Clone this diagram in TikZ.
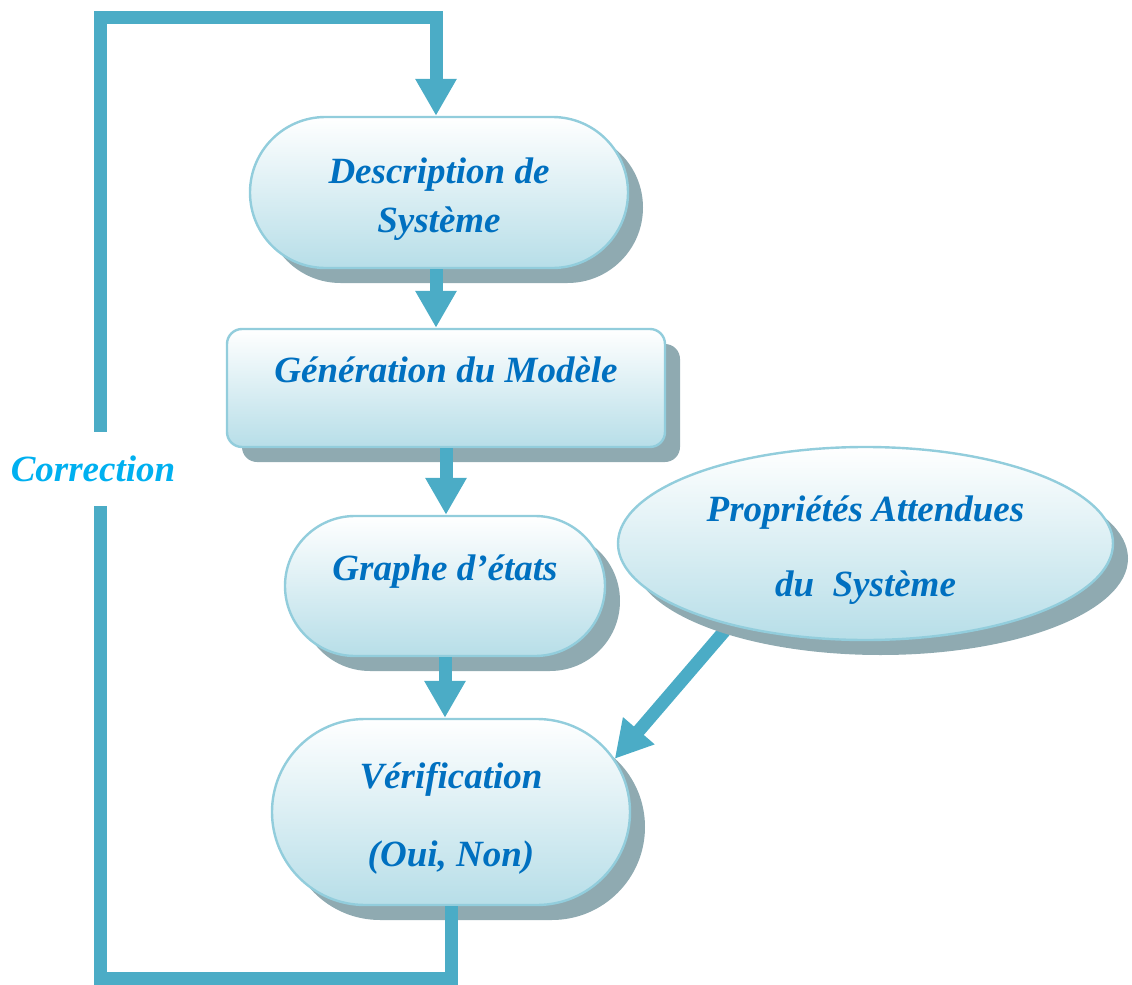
\documentclass[tikz,border=0pt]{standalone}
\usepackage{fontspec}
\setmainfont{Liberation Serif}
\usetikzlibrary{arrows.meta,shapes.misc,shapes.geometric,shadows,backgrounds}
\definecolor{flowblue}{HTML}{4BACC6}
\definecolor{edgeblue}{HTML}{92CDDC}
\definecolor{fillblue}{HTML}{B7DEE8}
\definecolor{shadowgray}{HTML}{8FAAB1}
\definecolor{textblue}{HTML}{0070C0}
\definecolor{corrblue}{HTML}{00B0F0}
\newcommand{\topstrut}{\rule{0pt}{19.5pt}}

\begin{document}
\begin{tikzpicture}[x=0.5pt, y=-0.5pt,
    flow/.style={draw=flowblue, line width=6.5pt, -{Triangle[width=19.5pt,length=18.5pt]}},
    card/.style={draw=edgeblue, line width=1.2pt, top color=white, bottom color=fillblue,
      text=textblue, font=\fontsize{18.5}{24.5}\selectfont\bfseries\itshape,
      align=center, inner sep=0pt,
      drop shadow={shadow xshift=7.5pt, shadow yshift=-7.5pt, fill=shadowgray, opacity=1}},
    pill/.style={card, rounded rectangle},
    tile/.style={card, rectangle, rounded corners=7.5pt},
    oval/.style={card, ellipse}]
  \useasboundingbox (0,0) rectangle (1132,985);

  \node[pill, minimum width=189pt, minimum height=75.5pt] (desc) at (439,192.5)
    {\topstrut Description de\\Système};
  \node[tile, minimum width=219pt, minimum height=59pt] (gen) at (446,388)
    {\raisebox{18pt}{Génération du Modèle}};
  \node[pill, minimum width=160pt, minimum height=70pt] (graph) at (445,586)
    {\raisebox{18pt}{Graphe d’états}};
  \node[pill, minimum width=179pt, minimum height=93pt] (verif) at (451,812)
    {\topstrut Vérification\\[14.5pt](Oui, Non)};
  \node[oval, minimum width=247.5pt, minimum height=96.5pt] (prop) at (865.5,543.5)
    {\topstrut Propriétés Attendues\\[13pt]du\ \ Système};

  \coordinate (cbl) at (100,978);
  \coordinate (ctl) at (100,17);

  \draw[flow] ([xshift=-1.5pt]desc.south) -- ([xshift=-1.5pt]desc.south |- gen.north);
  \draw[flow] (gen.south) -- (gen.south |- graph.north);
  \draw[flow] (graph.south) -- (graph.south |- verif.north);
  \begin{pgfonlayer}{background}
    \draw[flow] (prop.211) -- (verif.18);
  \end{pgfonlayer}
  \draw[flow, line join=miter] (verif.south) |- (cbl) -- node[pos=0.53, fill=white, inner sep=0pt,
      minimum height=37pt, xshift=-3.5pt, text=corrblue,
      font=\fontsize{18.5}{22}\selectfont\bfseries\itshape] (corr) {Correction}
    (ctl) -| ([xshift=-1.5pt]desc.north);
\end{tikzpicture}
\end{document}
